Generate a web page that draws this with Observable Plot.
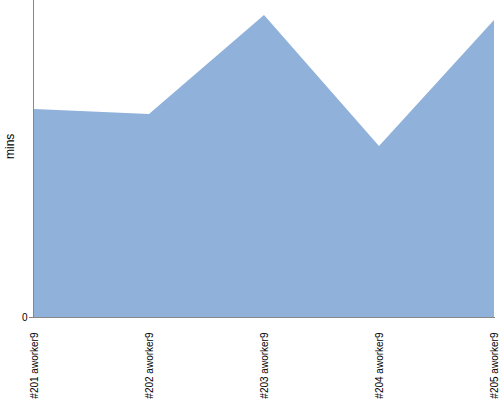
<!DOCTYPE html>
<html><head><meta charset="utf-8">
<script src="https://cdn.jsdelivr.net/npm/d3@7"></script>
<script src="https://cdn.jsdelivr.net/npm/@observablehq/plot@0.6"></script>
<style>body{margin:0;background:#fff}</style>
</head><body><div id="chart"></div>
<script>
const categories = ["#201 aworker9", "#202 aworker9", "#203 aworker9", "#204 aworker9", "#205 aworker9"];
const values = [208, 203, 302, 171, 297];
const yTicks = [0];

const data = categories.map((c, i) => ({cat: c, v: values[i]}));

const chart = Plot.plot({
  width: 500, height: 400,
  marginLeft: 33, marginRight: 5, marginTop: 0, marginBottom: 83,
  style: {fontFamily: "Liberation Sans, Arial, sans-serif", fontSize: "10px", color: "#000", background: "#fff"},
  x: {type: "point", domain: categories, padding: 0},
  y: {domain: [0, 317]},
  marks: [
    Plot.areaY(data, {x: "cat", y: "v", fill: "#8fb1da", curve: "linear"}),
    Plot.ruleY([0], {stroke: "#888"}),
    Plot.frame({anchor: "left", stroke: "#888"}),
    Plot.axisY({ticks: yTicks, tickSize: 4, tickPadding: 2, label: null, stroke: "#888", fontSize: 10}),
    Plot.axisX({tickRotate: -90, tickSize: 0, tickPadding: 15, label: null, fontSize: 10}),
    Plot.text(["mins"], {frameAnchor: "left", dx: -23, rotate: -90, fontSize: 12, fill: "#000"})
  ]
});
document.getElementById("chart").append(chart);
</script>
</body></html>
